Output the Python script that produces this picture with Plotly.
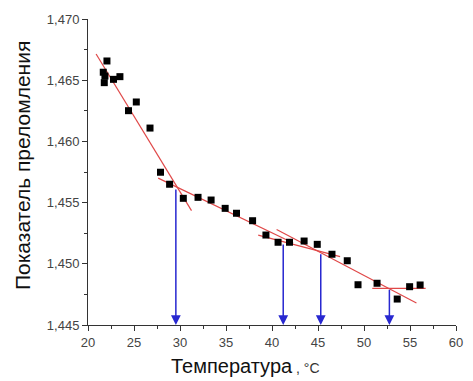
import plotly.graph_objects as go

# Measured refractive index vs temperature
temp = [22.06, 21.66, 21.84, 21.77, 22.77, 23.47, 24.40, 25.25, 26.74, 27.88,
        28.87, 30.36, 31.96, 33.38, 34.91, 36.14, 37.89, 39.34, 40.66, 41.90,
        43.49, 44.92, 46.52, 48.18, 49.35, 51.42, 53.61, 54.96, 56.10]
n_index = [1.46657, 1.46565, 1.46534, 1.46480, 1.46507, 1.46529, 1.46251, 1.46322,
           1.46109, 1.45748, 1.45650, 1.45535, 1.45543, 1.45521, 1.45453, 1.45413,
           1.45352, 1.45235, 1.45176, 1.45176, 1.45186, 1.45159, 1.45078, 1.45025,
           1.44829, 1.44841, 1.44712, 1.44813, 1.44827]

# Linear fit segments: (x_start, y_start, x_end, y_end)
fit_segments = [
    (20.88, 1.46714, 31.25, 1.45434),
    (27.63, 1.45700, 42.30, 1.45170),
    (38.50, 1.45234, 47.40, 1.45058),
    (40.50, 1.45280, 55.70, 1.44680),
    (50.90, 1.44800, 56.70, 1.44800),
]

# Transition temperatures (segment intersections)
trans_t = [29.55, 41.22, 45.30, 52.76]
trans_n = [1.4562, 1.4517, 1.4509, 1.4480]

x_ticks = [20, 25, 30, 35, 40, 45, 50, 55, 60]
y_ticks = [1.445, 1.450, 1.455, 1.460, 1.465, 1.470]

X_MIN, X_MAX = 20, 60
Y_MIN, Y_MAX = 1.445, 1.470

fig = go.Figure()

for x0, y0, x1, y1 in fit_segments:
    fig.add_trace(go.Scatter(x=[x0, x1], y=[y0, y1], mode="lines",
                             line=dict(color="#e04848", width=1.2),
                             hoverinfo="skip", showlegend=False))

fig.add_trace(go.Scatter(x=temp, y=n_index, mode="markers",
                         marker=dict(symbol="square", size=7, color="black"),
                         showlegend=False))

annotations = []
for t, n in zip(trans_t, trans_n):
    annotations.append(dict(x=t, y=Y_MIN, ax=t, ay=n, xref="x", yref="y",
                            axref="x", ayref="y", showarrow=True, text="",
                            arrowhead=2, arrowsize=1.3, arrowwidth=1.5,
                            arrowcolor="#2828d0"))

annotations.append(dict(
    x=0.219, y=-0.135, xref="paper", yref="paper", xanchor="left", yanchor="middle",
    showarrow=False,
    text="Температура<span style='font-size:14px;color:#333'> , °C</span>",
    font=dict(family="Liberation Sans, Arial", size=20, color="#111")))

annotations.append(dict(
    x=-0.176, y=0.52, xref="paper", yref="paper", xanchor="center", yanchor="middle",
    showarrow=False, textangle=-90, text="Показатель преломления",
    font=dict(family="Liberation Sans, Arial", size=21, color="#111")))

axis_common = dict(showline=True, linecolor="#333", linewidth=1, ticks="outside",
                   ticklen=5, tickwidth=1, tickcolor="#333", showgrid=False,
                   zeroline=False,
                   tickfont=dict(family="Liberation Sans, Arial", size=13, color="#444"))

fig.update_layout(
    width=473, height=381,
    margin=dict(l=88, r=10, t=19, b=56),
    paper_bgcolor="white", plot_bgcolor="white",
    separators=",.",
    annotations=annotations,
    xaxis=dict(range=[X_MIN, X_MAX], tickvals=x_ticks,
               minor=dict(ticks="outside", ticklen=3, dtick=2.5, tickcolor="#333"),
               **axis_common),
    yaxis=dict(range=[Y_MIN, Y_MAX], tickvals=y_ticks, tickformat=".3f",
               minor=dict(ticks="outside", ticklen=3, dtick=0.0025, tickcolor="#333"),
               **axis_common),
)

fig.write_html("out.html")
